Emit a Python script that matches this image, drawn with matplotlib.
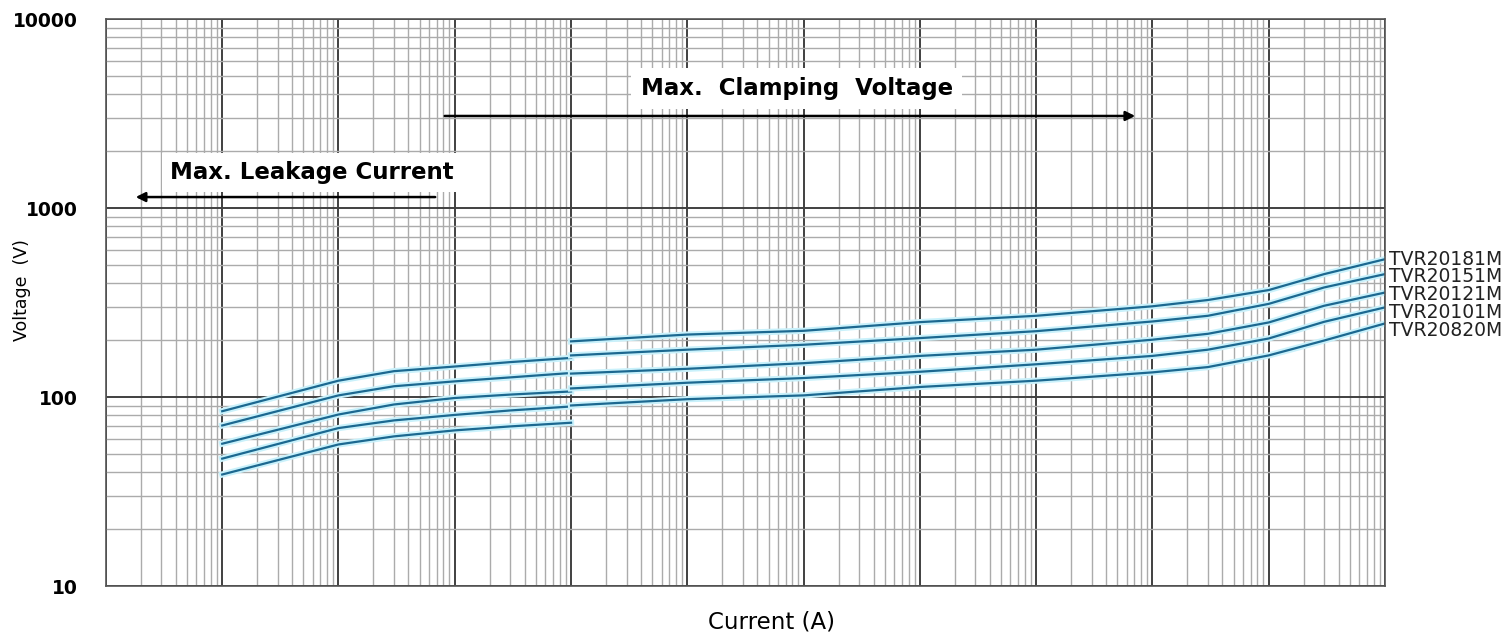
import numpy as np
import matplotlib
matplotlib.use("Agg")
import matplotlib.pyplot as plt
import matplotlib.patheffects as pe
from matplotlib.ticker import LogLocator, NullFormatter

# part numbers, top curve first
parts = ["TVR20181M", "TVR20151M", "TVR20121M", "TVR20101M", "TVR20820M"]

# leakage region (A) and voltages (V)
leak_current = [1e-5, 1e-4, 3e-4, 1e-3, 3e-3, 1e-2]
leak_181 = [84.1, 122, 137, 145, 153, 161]
leak_151 = [70.7, 102, 114, 121, 127, 134]
leak_121 = [56.6, 80.8, 91.3, 98.8, 103, 107]
leak_101 = [47.2, 68.5, 75.2, 80.4, 84.9, 89.1]
leak_820 = [38.9, 56.1, 61.9, 66.6, 69.9, 73.1]

# clamping region (A) and voltages (V)
clamp_current = [1e-2, 1e-1, 1, 10, 100, 1e3, 3e3, 1e4, 3e4, 1e5]
clamp_181 = [197, 214, 224, 249, 269, 302, 326, 368, 447, 536]
clamp_151 = [166, 178, 189, 205, 223, 251, 269, 311, 380, 447]
clamp_121 = [133, 141, 151, 165, 178, 201, 216, 248, 304, 357]
clamp_101 = [111, 119, 126, 136, 149, 165, 178, 204, 250, 298]
clamp_820 = [90.2, 97.4, 102, 113, 122, 135, 144, 166, 199, 245]

leak_v = [leak_181, leak_151, leak_121, leak_101, leak_820]
clamp_v = [clamp_181, clamp_151, clamp_121, clamp_101, clamp_820]

ytick_vals = [10, 100, 1000, 10000]
ytick_labels = ["10", "100", "1000", "10000"]

line_col = "#1c6890"
halo = [pe.Stroke(linewidth=4.5, foreground="#c9f1fb"), pe.Normal()]
label_dy = [-0.5, -2, -1.7, -3.8, -5.3]

fig = plt.figure(figsize=(15.09, 6.34), dpi=100)
ax = fig.add_axes([0.0702, 0.0757, 0.8476, 0.8943])

ax.set_xscale("log")
ax.set_yscale("log")
ax.set_xlim(1e-6, 1e5)
ax.set_ylim(10, 10000)

ax.xaxis.set_major_locator(LogLocator(base=10, numticks=30))
ax.xaxis.set_minor_locator(LogLocator(base=10, subs=np.arange(2, 10), numticks=300))
ax.yaxis.set_minor_locator(LogLocator(base=10, subs=np.arange(2, 10), numticks=100))
ax.xaxis.set_major_formatter(NullFormatter())
ax.xaxis.set_minor_formatter(NullFormatter())
ax.yaxis.set_minor_formatter(NullFormatter())
ax.set_yticks(ytick_vals, ytick_labels)
ax.tick_params(which="both", length=0)
ax.tick_params(axis="y", pad=20)
for lab in ax.get_yticklabels():
    lab.set_fontfamily("DejaVu Sans")
    lab.set_fontweight("bold")
    lab.set_fontsize(13.5)

ax.set_axisbelow(True)
ax.grid(which="major", color="#404040", lw=1.4)
ax.grid(which="minor", color="#ababab", lw=1.0)
for sp in ax.spines.values():
    sp.set_color("#555555")
    sp.set_linewidth(1.2)

for name, lv, cv, dy in zip(parts, leak_v, clamp_v, label_dy):
    ax.plot(leak_current, lv, color=line_col, lw=1.6, path_effects=halo)
    ax.plot(clamp_current, cv, color=line_col, lw=1.6, path_effects=halo)
    ax.annotate(name, (clamp_current[-1], cv[-1]), xytext=(3, dy),
                textcoords="offset points", va="center", ha="left",
                fontsize=13.5, color="#222222", annotation_clip=False)

# region captions with arrows
ax.text(0.161, 0.730, "Max. Leakage Current", transform=ax.transAxes,
        ha="center", va="center", fontsize=16.5, fontweight="bold",
        bbox=dict(boxstyle="square,pad=0.35", fc="white", ec="none"), zorder=4)
ax.annotate("", xy=(0.0211, 0.686), xytext=(0.2596, 0.686),
            xycoords="axes fraction",
            arrowprops=dict(arrowstyle="-|>", color="black", lw=1.8,
                            mutation_scale=14), zorder=4)

ax.text(0.540, 0.878, "Max.  Clamping  Voltage", transform=ax.transAxes,
        ha="center", va="center", fontsize=16.5, fontweight="bold",
        bbox=dict(boxstyle="square,pad=0.4", fc="white", ec="none"), zorder=4)
ax.annotate("", xy=(0.8069, 0.829), xytext=(0.2627, 0.829),
            xycoords="axes fraction",
            arrowprops=dict(arrowstyle="-|>", color="black", lw=1.8,
                            mutation_scale=14), zorder=4)

ax.set_xlabel("Current (A)", fontsize=16.5, va="center")
ax.xaxis.set_label_coords(0.5207, -0.0635)
ax.set_ylabel("Voltage  (V)", fontsize=12.5, va="center")
ax.yaxis.set_label_coords(-0.0657, 0.522)

fig.savefig("out.png", dpi=100)
